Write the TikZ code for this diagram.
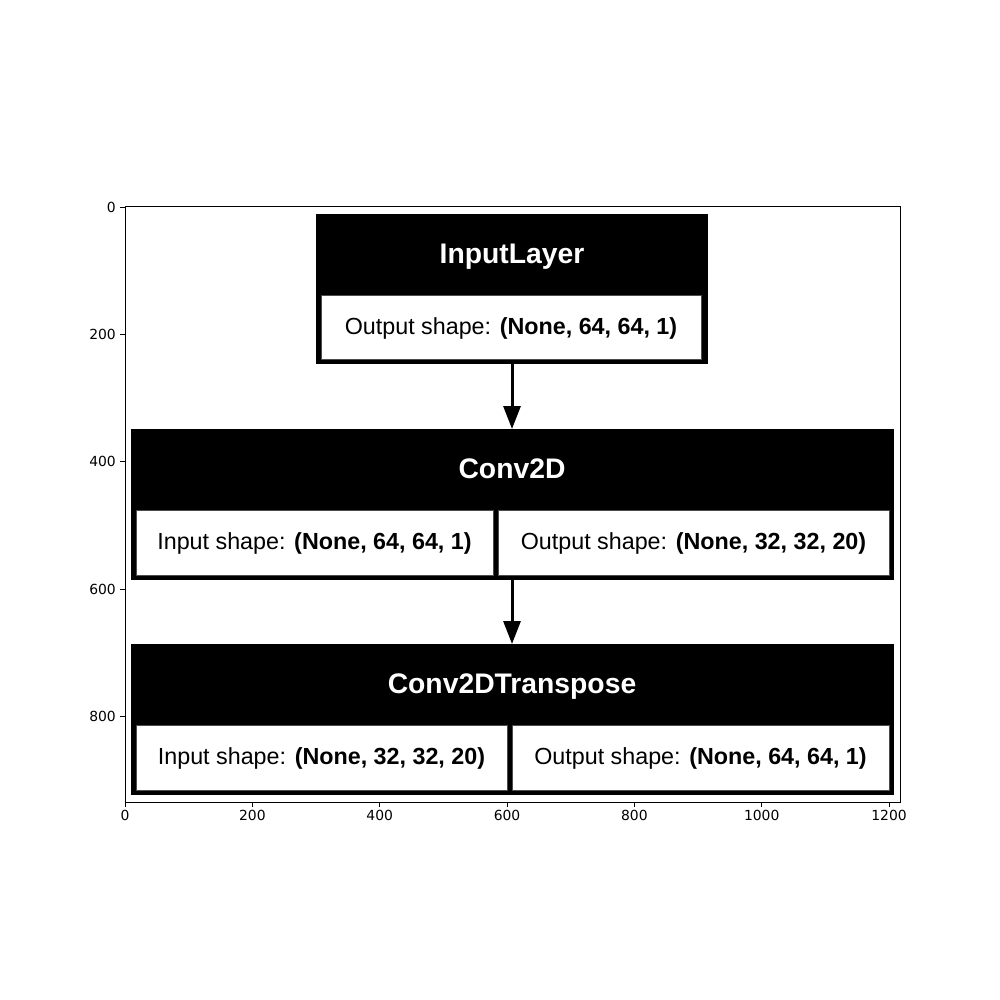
\documentclass[tikz,border=0pt]{standalone}
\usepackage{fontspec}
\setmainfont{Liberation Sans}
\newfontfamily\tickfont{DejaVu Sans}
\usetikzlibrary{arrows.meta}
\tikzset{
  outerbox/.style={fill=black, draw=none, inner sep=0pt, outer sep=0pt},
  cellbox/.style={fill=white, draw=black!70, line width=0.6pt, inner sep=0pt, outer sep=0pt},
  headtext/.style={text=white, font=\fontsize{28.3}{32}\selectfont\bfseries, inner sep=0pt, anchor=base},
  celltext/.style={text=black, font=\fontsize{23.3}{26}\selectfont, inner sep=0pt, anchor=base},
  flow/.style={line width=3pt, -{Triangle[length=23pt,width=17pt]}},
  ticklab/.style={font=\tickfont\fontsize{13.9}{16}\selectfont, inner sep=0pt},
}
\begin{document}
\begin{tikzpicture}[x=1pt,y=-1pt]
\useasboundingbox (0,0) rectangle (1000,1000);
\fill[white] (0,0) rectangle (1000,1000);

% InputLayer
\node[outerbox, minimum width=392pt, minimum height=150pt] (inp) at (512,289) {};
\node[cellbox, minimum width=380pt, minimum height=64pt] (inpout) at (511,327) {};
\node[headtext] (inph) at (512,263) {InputLayer};
\node[celltext] (inpot) at (511,334) {Output shape: \textbf{(None, 64, 64, 1)}};

% Conv2D
\node[outerbox, minimum width=763pt, minimum height=151pt] (conv) at (512.5,504.5) {};
\node[cellbox, minimum width=357pt, minimum height=65pt] (convin) at (314.5,542.5) {};
\node[cellbox, minimum width=391pt, minimum height=65pt] (convout) at (693.5,542.5) {};
\node[headtext] (convh) at (512,478) {Conv2D};
\node[celltext] (convit) at (314.5,549) {Input shape: \textbf{(None, 64, 64, 1)}};
\node[celltext] (convot) at (693.5,549) {Output shape: \textbf{(None, 32, 32, 20)}};

% Conv2DTranspose
\node[outerbox, minimum width=763pt, minimum height=151pt] (tr) at (512.5,719.5) {};
\node[cellbox, minimum width=371pt, minimum height=65pt] (trin) at (321.5,757.5) {};
\node[cellbox, minimum width=377pt, minimum height=65pt] (trout) at (700.5,757.5) {};
\node[headtext] (trh) at (512,693) {Conv2DTranspose};
\node[celltext] (trit) at (321.5,764) {Input shape: \textbf{(None, 32, 32, 20)}};
\node[celltext] (trot) at (700.5,764) {Output shape: \textbf{(None, 64, 64, 1)}};

% connectors
\draw[flow] (inp.south) -- (inp.south |- conv.north);
\draw[flow] (inp.south |- conv.south) -- (inp.south |- tr.north);

% axes
\draw[line width=1pt] (125,207) rectangle (900,802);
\foreach \v in {0,200,400,600,800,1000,1200} {
  \pgfmathsetmacro{\px}{125+\v*0.6367}
  \draw[line width=0.9pt] (\px,802) -- (\px,807);
  \node[ticklab, anchor=north] at (\px,810) {\v};
}
\foreach \v in {0,200,400,600,800} {
  \pgfmathsetmacro{\py}{207+\v*0.6367}
  \draw[line width=0.9pt] (125,\py) -- (120,\py);
  \node[ticklab, anchor=east] at (116,\py) {\v};
}
\end{tikzpicture}
\end{document}
